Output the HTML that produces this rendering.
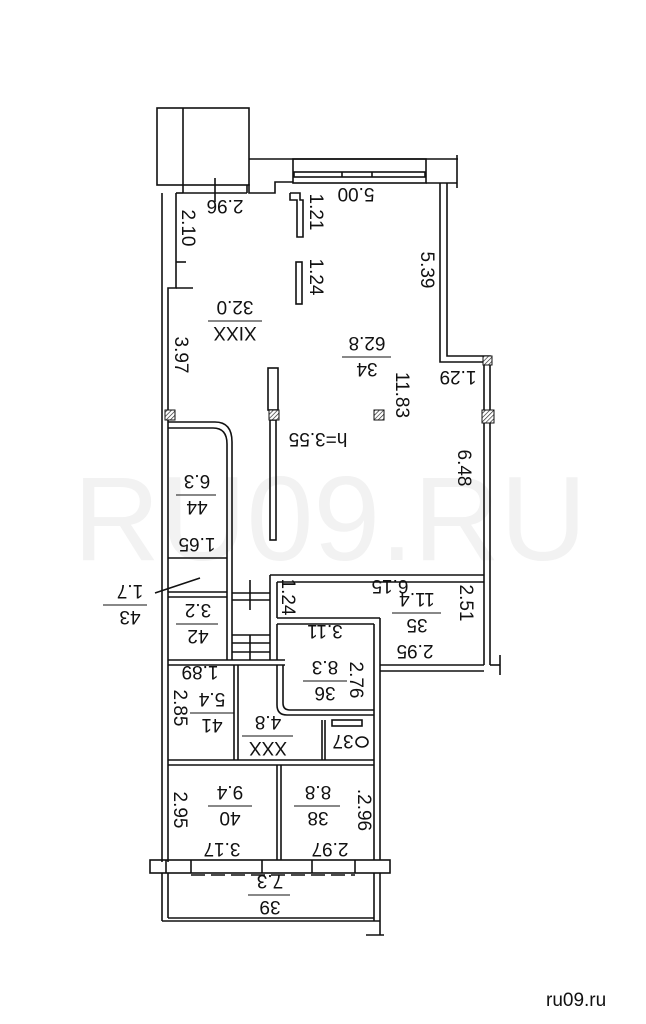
<!DOCTYPE html>
<html><head><meta charset="utf-8"><style>
html,body{margin:0;padding:0;background:#fff;}
svg{display:block}
text{font-family:"Liberation Sans",sans-serif;fill:#111;}
</style></head><body>
<svg width="646" height="1024" viewBox="0 0 646 1024" xmlns="http://www.w3.org/2000/svg">
<defs>
<pattern id="h" width="3" height="3" patternUnits="userSpaceOnUse" patternTransform="rotate(45)"><rect width="3" height="3" fill="#fff"/><line x1="0" y1="0" x2="0" y2="3" stroke="#222" stroke-width="1.3"/></pattern>
</defs>
<text x="330" y="560" font-size="120" style="fill:#f2f2f2" text-anchor="middle">RU09.RU</text>
<g stroke="#111" stroke-width="1.6" fill="none">
<rect x="157" y="108" width="92" height="77"/>
<line x1="183" y1="108" x2="183" y2="193"/>
<line x1="183" y1="193" x2="247" y2="193"/>
<line x1="247" y1="185" x2="247" y2="193"/>
<line x1="215" y1="178" x2="215" y2="202"/>
<polyline points="249,159 458,159"/>
<line x1="457" y1="155" x2="457" y2="188"/>
<polyline points="249,184 249,193 275,193 275,182 293,182"/>
<rect x="293" y="159" width="133" height="24"/>
<rect x="294" y="172" width="131" height="5"/>
<line x1="342" y1="172" x2="342" y2="177"/><line x1="372" y1="172" x2="372" y2="177"/>
<polyline points="426,183 457,183"/>
<line x1="162" y1="193" x2="162" y2="862"/>
<polyline points="176,193 176,288 168,288 168,410"/>
<line x1="176" y1="193" x2="183" y2="193"/>
<line x1="176" y1="262" x2="186" y2="262"/><line x1="176" y1="288" x2="193" y2="288"/>
<line x1="168" y1="415" x2="168" y2="862"/>
<polyline points="290,193 300,193 300,200 303,200 303,237 297,237 297,200 290,200 290,193"/>
<rect x="296" y="262" width="6" height="42"/>
<rect x="268" y="368" width="10" height="42"/>
<rect x="270" y="420" width="6" height="120"/>
<polyline points="440,183 440,362 484,362 484,665"/>
<polyline points="447,183 447,356 490,356 490,665"/>
<polyline points="490,665 500,665"/><line x1="500" y1="655" x2="500" y2="675"/>
<path d="M168,422 L215,422 Q232,422 232,442 L232,660"/>
<path d="M168,428 L213,428 Q227,428 227,444 L227,660"/>
<line x1="168" y1="558" x2="227" y2="558"/>
<line x1="168" y1="592" x2="227" y2="592"/><line x1="168" y1="597" x2="227" y2="597"/>
<line x1="232" y1="593" x2="270" y2="593"/><line x1="232" y1="600" x2="270" y2="600"/>
<line x1="250" y1="580" x2="250" y2="610"/>
<line x1="232" y1="635" x2="270" y2="635"/><line x1="232" y1="643" x2="270" y2="643"/><line x1="232" y1="652" x2="270" y2="652"/>
<line x1="250" y1="635" x2="250" y2="660"/>
<line x1="168" y1="660" x2="285" y2="660"/><line x1="168" y1="665" x2="285" y2="665"/>
<polyline points="270,575 270,660"/><polyline points="277,582 277,618"/>
<line x1="270" y1="575" x2="484" y2="575"/><line x1="277" y1="582" x2="484" y2="582"/>
<line x1="277" y1="618" x2="380" y2="618"/><line x1="277" y1="624" x2="374" y2="624"/>
<line x1="380" y1="618" x2="380" y2="665"/>
<line x1="374" y1="624" x2="374" y2="860"/><line x1="380" y1="665" x2="380" y2="860"/>
<line x1="380" y1="665" x2="484" y2="665"/><line x1="380" y1="671" x2="484" y2="671"/>
<polyline points="277,624 277,660"/>
<path d="M277,665 L277,705 Q277,715 287,715 L374,715"/>
<path d="M283,665 L283,703 Q283,710 290,710 L374,710"/>
<line x1="234" y1="665" x2="234" y2="760"/><line x1="238" y1="665" x2="238" y2="760"/>
<line x1="168" y1="760" x2="374" y2="760"/><line x1="168" y1="765" x2="374" y2="765"/>
<line x1="322" y1="720" x2="322" y2="760"/><line x1="325" y1="720" x2="325" y2="760"/>
<rect x="332" y="720" width="30" height="6"/>
<ellipse cx="362" cy="742" rx="6" ry="5"/>
<line x1="277" y1="765" x2="277" y2="860"/><line x1="281" y1="765" x2="281" y2="860"/>
<rect x="150" y="860" width="240" height="13"/>
<line x1="166" y1="860" x2="166" y2="873"/><line x1="191" y1="860" x2="191" y2="873"/>
<line x1="262" y1="860" x2="262" y2="873"/><line x1="312" y1="860" x2="312" y2="873"/><line x1="355" y1="860" x2="355" y2="873"/>
<line x1="191" y1="875" x2="355" y2="875" stroke-dasharray="14,6"/>
<line x1="162" y1="873" x2="162" y2="921"/><line x1="168" y1="873" x2="168" y2="918"/>
<line x1="374" y1="873" x2="374" y2="921"/><line x1="380" y1="873" x2="380" y2="935"/>
<line x1="162" y1="921" x2="380" y2="921"/><line x1="168" y1="918" x2="374" y2="918"/>
<line x1="366" y1="935" x2="384" y2="935"/>
<line x1="155" y1="593" x2="200" y2="578"/>
</g>
<g fill="url(#h)" stroke="#111" stroke-width="1">
<rect x="165" y="410" width="10" height="10"/>
<rect x="269" y="410" width="10" height="10"/>
<rect x="374" y="410" width="10" height="10"/>
<rect x="483" y="356" width="9" height="9"/>
<rect x="482" y="410" width="12" height="13"/>
</g>
<g font-size="19">
<g transform="rotate(180 225 207)"><text x="225" y="214" text-anchor="middle">2.96</text></g>
<g transform="rotate(180 356 195)"><text x="356" y="202" text-anchor="middle">5.00</text></g>
<g transform="rotate(90 317 212)"><text x="317" y="219" text-anchor="middle">1.21</text></g>
<g transform="rotate(90 189 228)"><text x="189" y="235" text-anchor="middle">2.10</text></g>
<g transform="rotate(90 317 277)"><text x="317" y="284" text-anchor="middle">1.24</text></g>
<g transform="rotate(90 428 270)"><text x="428" y="277" text-anchor="middle">5.39</text></g>
<g transform="rotate(180 235 321)"><text x="235" y="315" text-anchor="middle">XIXX</text><text x="235" y="341" text-anchor="middle">32.0</text><line x1="208" y1="321" x2="262" y2="321" stroke="#111"/></g>
<g transform="rotate(90 182 355)"><text x="182" y="362" text-anchor="middle">3.97</text></g>
<g transform="rotate(180 367 357)"><text x="367" y="351" text-anchor="middle">34</text><text x="367" y="377" text-anchor="middle">62.8</text><line x1="343" y1="357" x2="392" y2="357" stroke="#111"/></g>
<g transform="rotate(180 458 378)"><text x="458" y="385" text-anchor="middle">1.29</text></g>
<g transform="rotate(90 403 395)"><text x="403" y="402" text-anchor="middle">11.83</text></g>
<g transform="rotate(180 318 440)"><text x="318" y="447" text-anchor="middle">h=3.55</text></g>
<g transform="rotate(90 465 468)"><text x="465" y="475" text-anchor="middle">6.48</text></g>
<g transform="rotate(180 197 495)"><text x="197" y="489" text-anchor="middle">44</text><text x="197" y="515" text-anchor="middle">6.3</text><line x1="178" y1="495" x2="218" y2="495" stroke="#111"/></g>
<g transform="rotate(180 197 545)"><text x="197" y="552" text-anchor="middle">1.65</text></g>
<g transform="rotate(180 130 605)"><text x="130" y="599" text-anchor="middle">43</text><text x="130" y="625" text-anchor="middle">1.7</text><line x1="113" y1="605" x2="157" y2="605" stroke="#111"/></g>
<g transform="rotate(180 198 624)"><text x="198" y="618" text-anchor="middle">42</text><text x="198" y="644" text-anchor="middle">3.2</text><line x1="178" y1="624" x2="220" y2="624" stroke="#111"/></g>
<g transform="rotate(90 289 597)"><text x="289" y="604" text-anchor="middle">1.24</text></g>
<g transform="rotate(180 390 587)"><text x="390" y="594" text-anchor="middle">6.15</text></g>
<g transform="rotate(180 417 613)"><text x="417" y="607" text-anchor="middle">35</text><text x="417" y="633" text-anchor="middle">11.4</text><line x1="393" y1="613" x2="442" y2="613" stroke="#111"/></g>
<g transform="rotate(90 467 603)"><text x="467" y="610" text-anchor="middle">2.51</text></g>
<g transform="rotate(180 325 632)"><text x="325" y="639" text-anchor="middle">3.11</text></g>
<g transform="rotate(180 415 652)"><text x="415" y="659" text-anchor="middle">2.95</text></g>
<g transform="rotate(180 325 681)"><text x="325" y="675" text-anchor="middle">36</text><text x="325" y="701" text-anchor="middle">8.3</text><line x1="303" y1="681" x2="347" y2="681" stroke="#111"/></g>
<g transform="rotate(90 357 680)"><text x="357" y="687" text-anchor="middle">2.76</text></g>
<g transform="rotate(180 200 673)"><text x="200" y="680" text-anchor="middle">1.89</text></g>
<g transform="rotate(180 212 713)"><text x="212" y="707" text-anchor="middle">41</text><text x="212" y="733" text-anchor="middle">5.4</text><line x1="190" y1="713" x2="234" y2="713" stroke="#111"/></g>
<g transform="rotate(90 181 708)"><text x="181" y="715" text-anchor="middle">2.85</text></g>
<g transform="rotate(180 268 736)"><text x="268" y="730" text-anchor="middle">XXX</text><text x="268" y="756" text-anchor="middle">4.8</text><line x1="243" y1="736" x2="294" y2="736" stroke="#111"/></g>
<g transform="rotate(180 343 742)"><text x="343" y="749" text-anchor="middle">37</text></g>
<g transform="rotate(180 230 806)"><text x="230" y="800" text-anchor="middle">40</text><text x="230" y="826" text-anchor="middle">9.4</text><line x1="208" y1="806" x2="252" y2="806" stroke="#111"/></g>
<g transform="rotate(180 318 806)"><text x="318" y="800" text-anchor="middle">38</text><text x="318" y="826" text-anchor="middle">8.8</text><line x1="296" y1="806" x2="342" y2="806" stroke="#111"/></g>
<g transform="rotate(90 181 810)"><text x="181" y="817" text-anchor="middle">2.95</text></g>
<g transform="rotate(90 365 810)"><text x="365" y="817" text-anchor="middle">.2.96</text></g>
<g transform="rotate(180 222 850)"><text x="222" y="857" text-anchor="middle">3.17</text></g>
<g transform="rotate(180 330 850)"><text x="330" y="857" text-anchor="middle">2.97</text></g>
<g transform="rotate(180 270 895)"><text x="270" y="889" text-anchor="middle">39</text><text x="270" y="915" text-anchor="middle">7.3</text><line x1="250" y1="895" x2="292" y2="895" stroke="#111"/></g>
</g>
<text x="546" y="1006" font-size="19">ru09.ru</text>
</svg>
</body></html>
